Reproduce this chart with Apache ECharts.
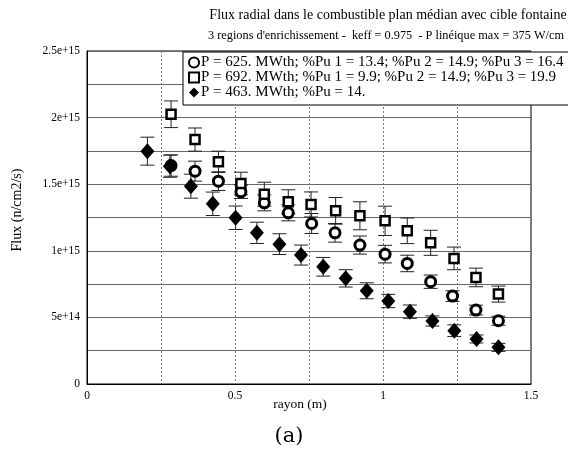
<!DOCTYPE html>
<html><head><meta charset="utf-8">
<script src="https://cdn.jsdelivr.net/npm/echarts@6/dist/echarts.min.js"></script>
<style>html,body{margin:0;padding:0;background:#fff}#c{width:568px;height:472px}</style>
</head><body><div id="c"></div>
<script>
const titleText = "Flux radial dans le combustible plan médian avec cible fontaine";
const subtitleText = "3 regions d'enrichissement -  keff = 0.975  - P linéique max = 375 W/cm";
const xAxisName = "rayon (m)";
const yAxisName = "Flux (n/cm2/s)";
const captionText = "(a)";
const yTickLabels = {0:"0", 5e14:"5e+14", 1e15:"1e+15", 1.5e15:"1.5e+15", 2e15:"2e+15", 2.5e15:"2.5e+15"};
const xTickLabels = {0:"0", 0.5:"0.5", 1:"1", 1.5:"1.5"};

const nameCircle = "P = 625. MWth; %Pu 1 = 13.4; %Pu 2 = 14.9; %Pu 3 = 16.4";
const nameSquare = "P = 692. MWth; %Pu 1 = 9.9; %Pu 2 = 14.9; %Pu 3 = 19.9";
const nameDiamond = "P = 463. MWth; %Pu = 14.";

// values in units of 1e15 n/cm2/s
const circleR   = [0.284, 0.365, 0.444, 0.520, 0.599, 0.680, 0.759, 0.838, 0.922, 1.007, 1.082, 1.161, 1.235, 1.314, 1.390];
const circleF   = [1.64, 1.598, 1.523, 1.443, 1.360, 1.285, 1.205, 1.135, 1.043, 0.975, 0.905, 0.768, 0.660, 0.555, 0.475];
const circleErr = [0.08, 0.075, 0.070, 0.050, 0.060, 0.060, 0.075, 0.070, 0.068, 0.066, 0.062, 0.050, 0.040, 0.037, 0.034];

const squareR   = [0.284, 0.365, 0.444, 0.520, 0.599, 0.680, 0.757, 0.840, 0.922, 1.007, 1.082, 1.161, 1.240, 1.314, 1.390];
const squareF   = [2.025, 1.835, 1.668, 1.505, 1.425, 1.368, 1.348, 1.300, 1.263, 1.225, 1.150, 1.060, 0.943, 0.800, 0.675];
const squareErr = [0.100, 0.087, 0.080, 0.085, 0.090, 0.090, 0.094, 0.100, 0.105, 0.110, 0.096, 0.094, 0.085, 0.070, 0.060];

const diamondR   = [0.204, 0.280, 0.351, 0.425, 0.502, 0.574, 0.650, 0.723, 0.798, 0.874, 0.945, 1.018, 1.091, 1.167, 1.241, 1.316, 1.390];
const diamondF   = [1.748, 1.635, 1.485, 1.353, 1.248, 1.135, 1.050, 0.968, 0.880, 0.793, 0.700, 0.623, 0.543, 0.473, 0.400, 0.338, 0.275];
const diamondErr = [0.105, 0.083, 0.090, 0.088, 0.088, 0.080, 0.078, 0.075, 0.070, 0.065, 0.060, 0.050, 0.050, 0.038, 0.044, 0.030, 0.030];

const E = 1e15;
function pts(r, f){ return r.map((x,i)=>[x, f[i]*E]); }
function errs(r, f, e){ return r.map((x,i)=>[x, (f[i]-e[i])*E, (f[i]+e[i])*E]); }

function renderErr(params, api){
  const x = api.value(0), lo = api.value(1), hi = api.value(2);
  const a = api.coord([x, hi]), b = api.coord([x, lo]);
  const w = 7;
  const st = {stroke:'#222', lineWidth:1};
  return {type:'group', children:[
    {type:'line', shape:{x1:a[0], y1:a[1], x2:b[0], y2:b[1]}, style:st},
    {type:'line', shape:{x1:a[0]-w, y1:a[1], x2:a[0]+w, y2:a[1]}, style:st},
    {type:'line', shape:{x1:b[0]-w, y1:b[1], x2:b[0]+w, y2:b[1]}, style:st}
  ]};
}

const serif = "Liberation Serif";
const chart = echarts.init(document.getElementById('c'), null, {renderer:'canvas'});
chart.setOption({
  animation:false,
  backgroundColor:'#fff',
  graphic:[
    {type:'text', x:388, y:15, style:{text:titleText, font:'14px "Liberation Serif"', fill:'#000', align:'center', verticalAlign:'middle'}},
    {type:'text', x:386, y:36, style:{text:subtitleText, font:'12.3px "Liberation Serif"', fill:'#000', align:'center', verticalAlign:'middle'}},
    {type:'text', x:289, y:437, style:{text:captionText, font:'21px "DejaVu Serif"', fill:'#000', align:'center', verticalAlign:'middle'}},
    {type:'text', x:300, y:404, style:{text:xAxisName, font:'13.5px "Liberation Serif"', fill:'#000', align:'center', verticalAlign:'middle'}},
    {type:'text', x:17, y:210, rotation:Math.PI/2, style:{text:yAxisName, font:'14px "Liberation Serif"', fill:'#000', align:'center', verticalAlign:'middle'}}
  ],
  legend:{
    left:183, top:52, orient:'vertical',
    data:[nameCircle, nameSquare, nameDiamond],
    itemWidth:10, itemHeight:10, itemGap:0,
    padding:[3, 40, 5, 5],
    borderColor:'#000', borderWidth:1, backgroundColor:'#fff',
    textStyle:{fontFamily:serif, fontSize:15, color:'#000', padding:[0,0,0,-3], lineHeight:14.5}
  },
  grid:{left:87, right:37, top:51, bottom:88, show:true, borderColor:'#000', borderWidth:1, backgroundColor:'transparent'},
  xAxis:{
    type:'value', min:0, max:1.5, interval:0.25,
    axisLine:{show:true, lineStyle:{color:'#000'}},
    axisTick:{show:false},
    axisLabel:{fontFamily:serif, fontSize:11.5, color:'#000', margin:6,
      formatter:v=> (xTickLabels[+v.toFixed(2)] !== undefined ? xTickLabels[+v.toFixed(2)] : '')},
    splitLine:{show:true, lineStyle:{color:'#777', type:[2,2], width:1}}
  },
  yAxis:{
    type:'value', min:0, max:2.5e15, interval:2.5e14,
    axisLine:{show:true, lineStyle:{color:'#000'}},
    axisTick:{show:false},
    axisLabel:{fontFamily:serif, fontSize:11.5, color:'#000', margin:7,
      formatter:v=> (yTickLabels[v] !== undefined ? yTickLabels[v] : '')},
    splitLine:{show:true, lineStyle:{color:'#666', width:1}}
  },
  series:[
    {type:'custom', renderItem:renderErr, data:errs(circleR, circleF, circleErr), encode:{x:0, y:[1,2]}, z:1, silent:true},
    {type:'custom', renderItem:renderErr, data:errs(squareR, squareF, squareErr), encode:{x:0, y:[1,2]}, z:1, silent:true},
    {type:'custom', renderItem:renderErr, data:errs(diamondR, diamondF, diamondErr), encode:{x:0, y:[1,2]}, z:1, silent:true},
    {name:nameCircle, type:'scatter', data:pts(circleR, circleF), symbol:'circle', symbolSize:10, z:3,
     itemStyle:{color:'#fff', borderColor:'#000', borderWidth:3, opacity:1}},
    {name:nameSquare, type:'scatter', data:pts(squareR, squareF), symbol:'rect', symbolSize:9, z:4,
     itemStyle:{color:'#fff', borderColor:'#000', borderWidth:2.5, opacity:1}},
    {name:nameDiamond, type:'scatter', data:pts(diamondR, diamondF), symbol:'diamond', symbolSize:[14,16], z:5,
     itemStyle:{color:'#000', opacity:1}}
  ]
});
</script></body></html>
